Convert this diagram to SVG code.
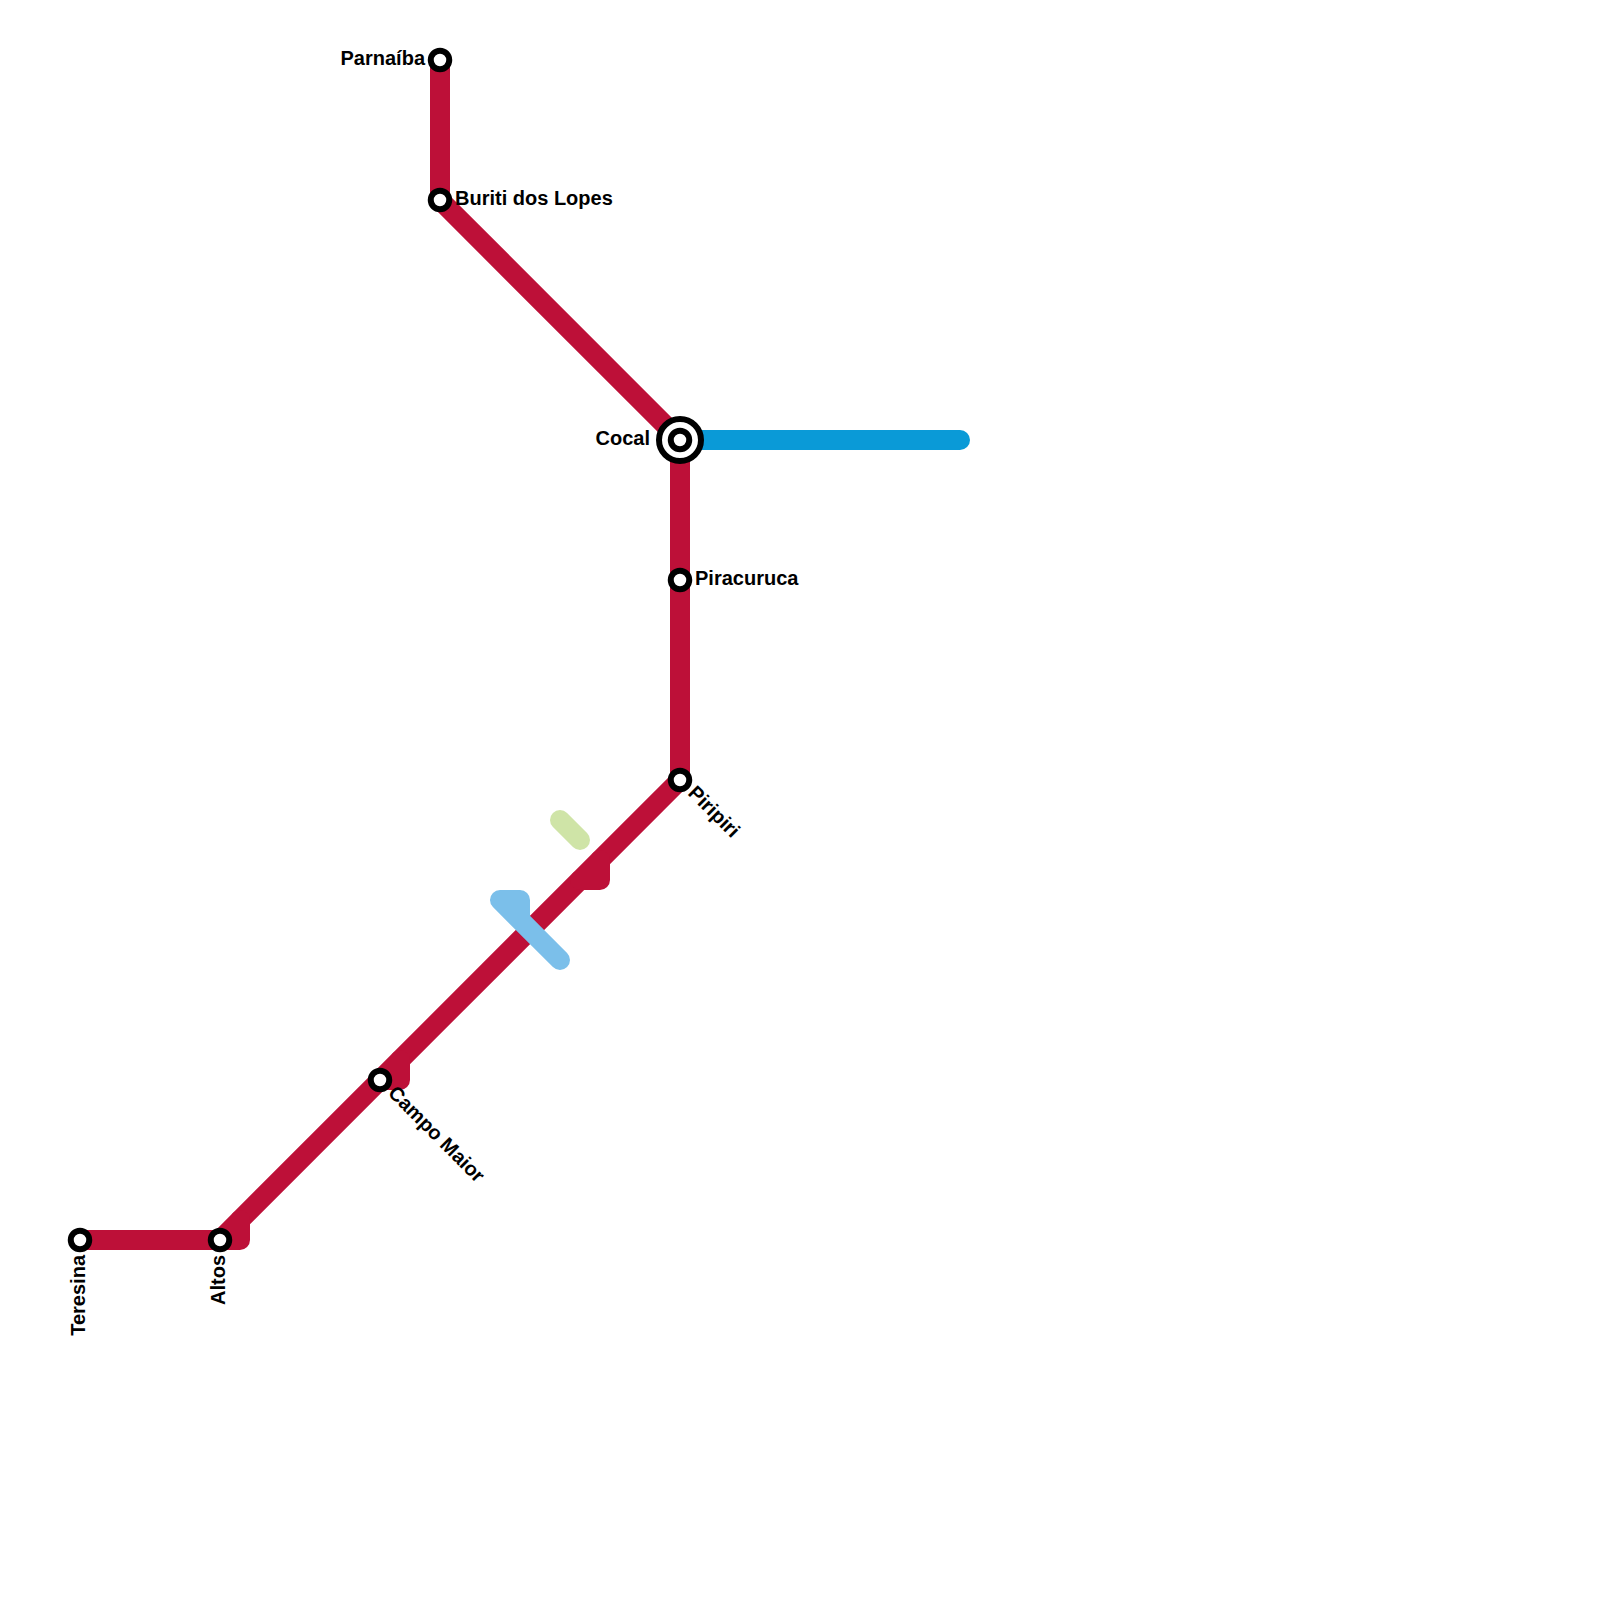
<svg xmlns="http://www.w3.org/2000/svg" width="1600" height="1600" viewBox="0 0 1600 1600">
<style>
.l{fill:none;stroke-width:20;stroke-linecap:round;stroke-linejoin:round}
.r{stroke:#bd1038}.b{stroke:#0a9ad7}.s{stroke:#7bbfea}.g{stroke:#cfe4a7}
.st{fill:#fff;stroke:#000;stroke-width:6}
text{font-family:"Liberation Sans",Arial,sans-serif;font-weight:700;font-size:20px;fill:#000}
</style>
<rect width="1600" height="1600" fill="#fff"/>
<g id="connectors">
<path class="l b" d="M680 440H960"/>
<path class="l r" d="M440 60V200L680 440V780L220 1240"/>
<path class="l r" d="M80 1240H240V1220"/>
<path class="l r" d="M380 1080H400V1060"/>
<path class="l r" d="M580 880H600V860"/>
<path class="l s" d="M560 960L500 900H520V920"/>
<path class="l g" d="M560 820L580 840"/>
</g>
<g id="parnaiba"><circle class="st" cx="440" cy="60" r="9.25"/><text x="425" y="65" text-anchor="end">Parnaíba</text></g>
<g id="buriti"><circle class="st" cx="440" cy="200" r="9.25"/><text x="455" y="205">Buriti dos Lopes</text></g>
<g id="cocal"><circle class="st" cx="680" cy="440" r="21"/><circle class="st" cx="680" cy="440" r="9.25"/><text x="650" y="445" text-anchor="end">Cocal</text></g>
<g id="piracuruca"><circle class="st" cx="680" cy="580" r="9.25"/><text x="695" y="585">Piracuruca</text></g>
<g id="piripiri"><circle class="st" cx="680" cy="780" r="9.25"/><text transform="translate(687 794) rotate(45)">Piripiri</text></g>
<g id="campo-maior"><circle class="st" cx="380" cy="1080" r="9.25"/><text transform="translate(387 1094) rotate(45)">Campo Maior</text></g>
<g id="altos"><circle class="st" cx="220" cy="1240" r="9.25"/><text transform="translate(225 1255) rotate(-90)" text-anchor="end">Altos</text></g>
<g id="teresina"><circle class="st" cx="80" cy="1240" r="9.25"/><text transform="translate(85 1255) rotate(-90)" text-anchor="end">Teresina</text></g>
</svg>
